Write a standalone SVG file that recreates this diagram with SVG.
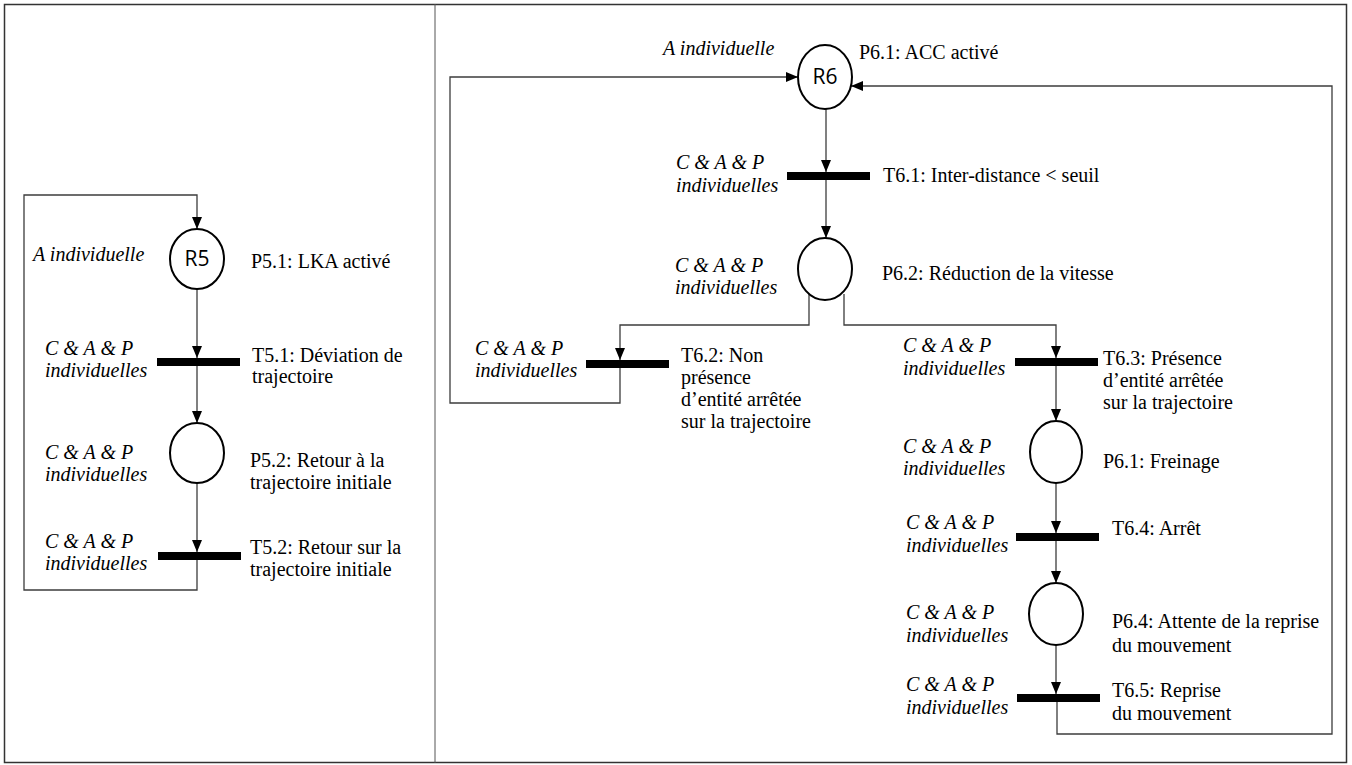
<svg xmlns="http://www.w3.org/2000/svg" width="1352" height="765" viewBox="0 0 1352 765">
<defs>
<style>
.lbl{font-family:"Liberation Serif","Times New Roman",serif;font-size:20px;fill:#000}
.it{font-family:"Liberation Serif","Times New Roman",serif;font-size:20px;font-style:italic;fill:#000}
.res{font-family:"Open Sans","Noto Sans",sans-serif;font-size:21px;fill:#000;text-anchor:middle}
.place{fill:#fff;stroke:#000;stroke-width:2}
.bar{fill:#000}
.conn{fill:none;stroke:#3c3c3c;stroke-width:1.3}
</style>
<marker id="arr" markerUnits="userSpaceOnUse" markerWidth="12" markerHeight="10" refX="12" refY="5" orient="auto">
<path d="M0,0 L12,5 L0,10 z" fill="#000"/>
</marker>
</defs>
<rect width="1352" height="765" fill="#fff"/>
<g id="frame">
<rect x="4.5" y="4.5" width="1342" height="758" fill="none" stroke="#333" stroke-width="1.5"/>
<line x1="435" y1="4" x2="435" y2="763" stroke="#555" stroke-width="1"/>
</g>
<g id="connectors">
<path class="conn" d="M197,289 V358" marker-end="url(#arr)"/>
<path class="conn" d="M197,366 V423" marker-end="url(#arr)"/>
<path class="conn" d="M197,483 V552" marker-end="url(#arr)"/>
<path class="conn" d="M197,560 V590 H24 V195 H197 V229" marker-end="url(#arr)"/>
<path class="conn" d="M826,109 V172" marker-end="url(#arr)"/>
<path class="conn" d="M826,180 V238" marker-end="url(#arr)"/>
<path class="conn" d="M809,294 V325 H620 V360" marker-end="url(#arr)"/>
<path class="conn" d="M844,294 V325 H1056 V358" marker-end="url(#arr)"/>
<path class="conn" d="M620,368 V403 H450 V77 H798" marker-end="url(#arr)"/>
<path class="conn" d="M1056,366 V421" marker-end="url(#arr)"/>
<path class="conn" d="M1056,483 V533" marker-end="url(#arr)"/>
<path class="conn" d="M1056,541 V583" marker-end="url(#arr)"/>
<path class="conn" d="M1056,645 V694" marker-end="url(#arr)"/>
<path class="conn" d="M1057,702 V734 H1332 V86 H851" marker-end="url(#arr)"/>
</g>
<g id="R5">
<ellipse class="place" cx="197" cy="259" rx="27" ry="30"/>
<text class="res" x="197" y="266">R5</text>
<text class="it" x="33" y="261">A individuelle</text>
<text class="lbl" x="251" y="268">P5.1: LKA activé</text>
</g>
<g id="T5.1">
<rect class="bar" x="157" y="358" width="83" height="8"/>
<text class="it" x="45" y="355">C &amp; A &amp; P</text>
<text class="it" x="45" y="377">individuelles</text>
<text class="lbl" x="252" y="362">T5.1: Déviation de</text>
<text class="lbl" x="252" y="383">trajectoire</text>
</g>
<g id="P5.2">
<ellipse class="place" cx="197" cy="453" rx="27" ry="30"/>
<text class="it" x="45" y="459">C &amp; A &amp; P</text>
<text class="it" x="45" y="481">individuelles</text>
<text class="lbl" x="250" y="467">P5.2: Retour à la</text>
<text class="lbl" x="250" y="489">trajectoire initiale</text>
</g>
<g id="T5.2">
<rect class="bar" x="158" y="552" width="83" height="8"/>
<text class="it" x="45" y="548">C &amp; A &amp; P</text>
<text class="it" x="45" y="570">individuelles</text>
<text class="lbl" x="250" y="554">T5.2: Retour sur la</text>
<text class="lbl" x="250" y="576">trajectoire initiale</text>
</g>
<g id="R6">
<ellipse class="place" cx="825" cy="77" rx="27" ry="32"/>
<text class="res" x="825" y="84">R6</text>
<text class="it" x="663" y="55">A individuelle</text>
<text class="lbl" x="859" y="59">P6.1: ACC activé</text>
</g>
<g id="T6.1">
<rect class="bar" x="787" y="172" width="83" height="8"/>
<text class="it" x="676" y="169">C &amp; A &amp; P</text>
<text class="it" x="676" y="192">individuelles</text>
<text class="lbl" x="883" y="182">T6.1: Inter-distance &lt; seuil</text>
</g>
<g id="P6.2">
<ellipse class="place" cx="825" cy="269" rx="27" ry="31"/>
<text class="it" x="675" y="272">C &amp; A &amp; P</text>
<text class="it" x="675" y="294">individuelles</text>
<text class="lbl" x="882" y="280">P6.2: Réduction de la vitesse</text>
</g>
<g id="T6.2">
<rect class="bar" x="586" y="360" width="83" height="8"/>
<text class="it" x="475" y="355">C &amp; A &amp; P</text>
<text class="it" x="475" y="377">individuelles</text>
<text class="lbl" x="681" y="362">T6.2: Non</text>
<text class="lbl" x="681" y="384">présence</text>
<text class="lbl" x="681" y="406">d’entité arrêtée</text>
<text class="lbl" x="681" y="428">sur la trajectoire</text>
</g>
<g id="T6.3">
<rect class="bar" x="1015" y="358" width="83" height="8"/>
<text class="it" x="903" y="352">C &amp; A &amp; P</text>
<text class="it" x="903" y="375">individuelles</text>
<text class="lbl" x="1103" y="365">T6.3: Présence</text>
<text class="lbl" x="1103" y="387">d’entité arrêtée</text>
<text class="lbl" x="1103" y="409">sur la trajectoire</text>
</g>
<g id="P6.1b">
<ellipse class="place" cx="1056" cy="452" rx="26" ry="31"/>
<text class="it" x="903" y="453">C &amp; A &amp; P</text>
<text class="it" x="903" y="475">individuelles</text>
<text class="lbl" x="1103" y="468">P6.1: Freinage</text>
</g>
<g id="T6.4">
<rect class="bar" x="1016" y="533" width="83" height="8"/>
<text class="it" x="906" y="529">C &amp; A &amp; P</text>
<text class="it" x="906" y="552">individuelles</text>
<text class="lbl" x="1112" y="535">T6.4: Arrêt</text>
</g>
<g id="P6.4">
<ellipse class="place" cx="1056" cy="614" rx="27" ry="31"/>
<text class="it" x="906" y="619">C &amp; A &amp; P</text>
<text class="it" x="906" y="642">individuelles</text>
<text class="lbl" x="1112" y="628">P6.4: Attente de la reprise</text>
<text class="lbl" x="1112" y="652">du mouvement</text>
</g>
<g id="T6.5">
<rect class="bar" x="1017" y="694" width="83" height="8"/>
<text class="it" x="906" y="691">C &amp; A &amp; P</text>
<text class="it" x="906" y="714">individuelles</text>
<text class="lbl" x="1112" y="697">T6.5: Reprise</text>
<text class="lbl" x="1112" y="720">du mouvement</text>
</g>
</svg>
